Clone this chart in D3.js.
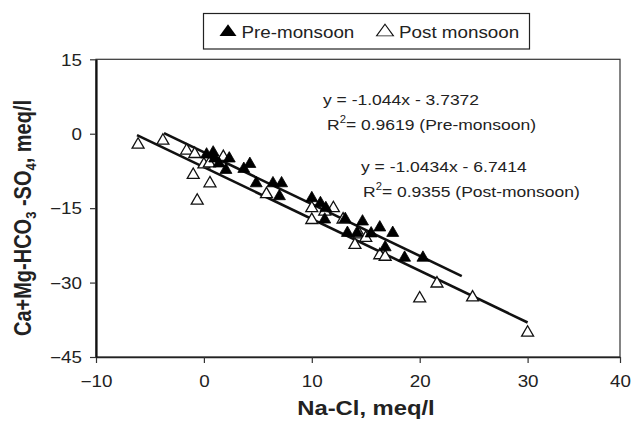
<!DOCTYPE html>
<html>
<head>
<meta charset="utf-8">
<script src="https://cdn.jsdelivr.net/npm/d3@7"></script>
<style>
  body { margin: 0; background: #fff; }
  svg { display: block; font-family: "Liberation Sans", Arial, sans-serif; }
</style>
</head>
<body>
<svg id="chart" width="632" height="430"></svg>
<script>
// ---- data ----
const xTicks = [-10, 0, 10, 20, 30, 40];
const yTicks = [15, 0, -15, -30, -45];

const preX = [0.25, 0.86, 1.0, 1.4, 2.35, 2.04, 3.7, 4.26, 4.85, 6.4, 7.2, 7.0, 10.0, 10.8, 11.3, 11.2, 13.1, 14.7, 13.3, 14.2, 15.5, 16.3, 17.5, 16.8, 18.6, 20.3];
const preY = [-4.2, -3.8, -5.0, -6.0, -5.0, -7.3, -7.1, -6.1, -10.0, -10.0, -10.0, -12.6, -13.0, -14.0, -15.0, -17.3, -17.2, -17.7, -20.0, -20.0, -20.1, -18.9, -20.0, -22.9, -25.0, -25.0];

const postX = [-6.1, -3.8, -1.6, -0.85, -0.99, 0.0, 0.5, 0.56, -0.62, 1.8, 5.8, 10.0, 10.0, 11.2, 12.0, 12.9, 14.4, 15.0, 14.0, 16.3, 16.8, 21.6, 20.0, 24.9, 30.0];
const postY = [-2.2, -1.4, -3.4, -4.1, -8.3, -6.2, -6.0, -10.0, -13.5, -4.7, -12.2, -15.0, -17.4, -15.7, -15.0, -17.3, -20.3, -21.0, -22.4, -24.5, -24.8, -30.2, -33.2, -33.0, -40.1];

const preFit = { slope: -1.044, intercept: -3.7372, xMin: -3.7, xMax: 23.9 };
const postFit = { slope: -1.0434, intercept: -6.7414, xMin: -6.2, xMax: 30.0 };

const legendLabels = ["Pre-monsoon", "Post monsoon"];

// ---- layout ----
const svg = d3.select("#chart");
const pLeft = 96, pRight = 620, pTop = 59.3, pBottom = 357;
const SX = 1.19; // horizontal text stretch seen in the reference

// x axis in the reference is compressed between 30 and 40
const x = d3.scaleLinear().domain([-10, 30, 40]).range([pLeft, 527.6, pRight]);
const y = d3.scaleLinear().domain([-45, 15]).range([pBottom, pTop]);

// frame
svg.append("rect")
  .attr("x", pLeft).attr("y", pTop)
  .attr("width", pRight - pLeft).attr("height", pBottom - pTop)
  .attr("fill", "none").attr("stroke", "#333").attr("stroke-width", 1.2);

// axes
const xAxis = svg.append("g")
  .attr("transform", `translate(0,${pBottom})`)
  .call(d3.axisBottom(x).tickValues(xTicks).tickSize(6).tickSizeOuter(0).tickPadding(13).tickFormat(d3.format("d")));
const yAxis = svg.append("g")
  .attr("transform", `translate(${pLeft},0)`)
  .call(d3.axisLeft(y).tickValues(yTicks).tickSize(6).tickSizeOuter(0).tickPadding(5.8).tickFormat(d3.format("d")));

[xAxis, yAxis].forEach(g => {
  g.selectAll("text").attr("font-size", 15.8).attr("fill", "#222")
    .attr("font-family", "'Liberation Sans', Arial, sans-serif")
    .attr("transform", `scale(${SX},1)`);
  g.selectAll("line").attr("stroke", "#333").attr("stroke-width", 1.2);
});
xAxis.select(".domain").attr("stroke", "#222").attr("stroke-width", 1.6);
yAxis.select(".domain").attr("stroke", "#111").attr("stroke-width", 2.2);
yAxis.selectAll("text").attr("dy", "0.36em");

// regression lines
function fitLine(f) {
  return [[f.xMin, f.slope * f.xMin + f.intercept], [f.xMax, f.slope * f.xMax + f.intercept]];
}
const line = d3.line().x(d => x(d[0])).y(d => y(d[1]));
[preFit, postFit].forEach(f => {
  svg.append("path").attr("d", line(fitLine(f)))
    .attr("fill", "none").attr("stroke", "#111").attr("stroke-width", 2.6);
});

// markers
const tri = d3.symbol().type(d3.symbolTriangle).size(62);
svg.append("g").selectAll("path")
  .data(postX.map((v, i) => [v, postY[i]]))
  .join("path")
  .attr("d", tri)
  .attr("transform", d => `translate(${x(d[0])},${y(d[1])})`)
  .attr("fill", "#fff").attr("stroke", "#111").attr("stroke-width", 1.3);
svg.append("g").selectAll("path")
  .data(preX.map((v, i) => [v, preY[i]]))
  .join("path")
  .attr("d", tri)
  .attr("transform", d => `translate(${x(d[0])},${y(d[1])})`)
  .attr("fill", "#000").attr("stroke", "#000").attr("stroke-width", 0.8);

// annotations
const AS = 1.13;
const ann = svg.append("g").attr("font-size", 15.5).attr("fill", "#222");
function eqText(xp, yp, slope, intercept) {
  ann.append("text").attr("transform", `translate(${xp},${yp}) scale(${AS},1)`)
    .text(`y = ${slope}x - ${Math.abs(intercept)}`);
}
function r2Text(xp, yp, r2, label) {
  const t = ann.append("text").attr("transform", `translate(${xp},${yp}) scale(${AS},1)`);
  t.append("tspan").text("R");
  t.append("tspan").attr("font-size", 10).attr("dy", -7).text("2");
  t.append("tspan").attr("dy", 7).text(`= ${r2} (${label})`);
}
eqText(323, 105, preFit.slope, preFit.intercept);
r2Text(327, 130, "0.9619", "Pre-monsoon");
eqText(361, 172, postFit.slope, postFit.intercept);
r2Text(363, 197, "0.9355", "Post-monsoon");

// axis titles
svg.append("text")
  .attr("transform", `translate(366,415) scale(${SX},1)`)
  .attr("text-anchor", "middle").attr("font-size", 20).attr("font-weight", "bold").attr("fill", "#222")
  .text("Na-Cl, meq/l");

const yt = svg.append("text")
  .attr("transform", `translate(31,218) scale(${SX},1) rotate(-90)`)
  .attr("text-anchor", "middle").attr("font-size", 20).attr("font-weight", "bold").attr("fill", "#222");
yt.append("tspan").text("Ca+Mg-HCO");
yt.append("tspan").attr("font-size", 13).attr("dy", 4).text("3");
yt.append("tspan").attr("dy", -4).text(" -SO");
yt.append("tspan").attr("font-size", 13).attr("dy", 4).text("4");
yt.append("tspan").attr("dy", -4).text(", meq/l");

// legend
const lg = svg.append("g");
lg.append("rect").attr("x", 203.5).attr("y", 13.5).attr("width", 326).attr("height", 35.5)
  .attr("fill", "#fff").attr("stroke", "#222").attr("stroke-width", 1.2);
const legSym = d3.symbol().type(d3.symbolTriangle).size(80);
lg.append("path").attr("d", legSym).attr("transform", "translate(228,32) scale(1.25,1)").attr("fill", "#000");
lg.append("text").attr("transform", `translate(241.5,37.5) scale(${SX},1)`)
  .attr("font-size", 15.8).attr("fill", "#222").text(legendLabels[0]);
lg.append("path").attr("d", legSym).attr("transform", "translate(385,32) scale(1.25,1)")
  .attr("fill", "#fff").attr("stroke", "#111").attr("stroke-width", 0.9);
lg.append("text").attr("transform", `translate(399,37.5) scale(${SX},1)`)
  .attr("font-size", 15.8).attr("fill", "#222").text(legendLabels[1]);
</script>
</body>
</html>
